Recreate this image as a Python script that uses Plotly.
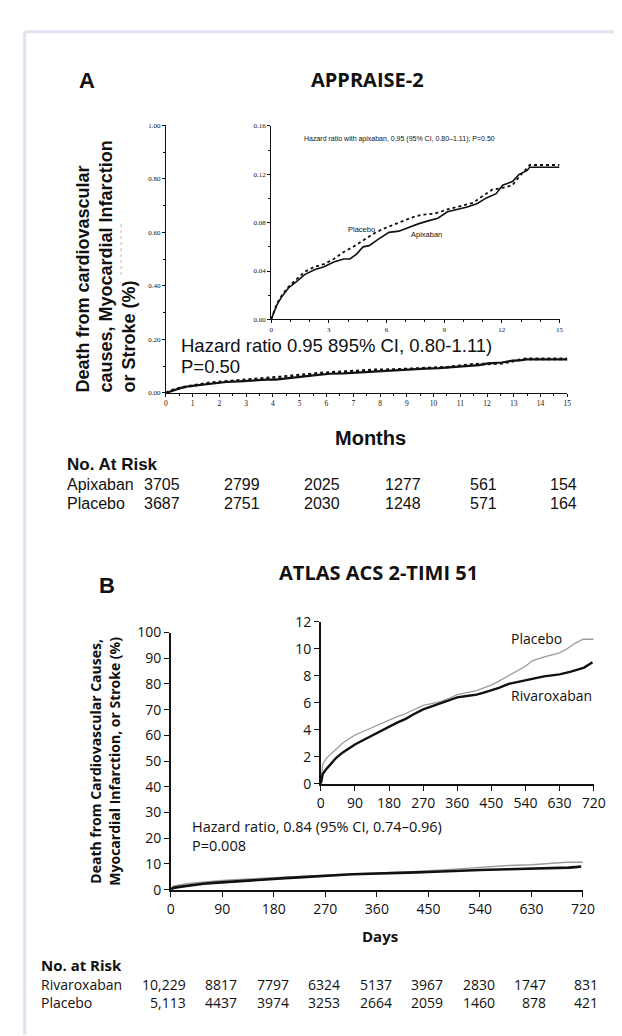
import plotly.graph_objects as go

W, H = 622, 1036

# ---------------- Data: Panel A (APPRAISE-2) ----------------
apx_months = [0, 0.14, 0.3, 0.56, 0.9, 1.3, 1.74, 2.25, 2.75, 3.26, 3.77, 4.1, 4.44, 4.78, 5.1, 5.6,
              6.13, 6.64, 7.1, 7.65, 8.16, 8.67, 9.17, 9.68, 10.2, 10.7, 11.2, 11.7, 12.04, 12.55,
              12.9, 13.3, 13.45, 15]
apx_rate = [0, 0.0054, 0.012, 0.019, 0.026, 0.031, 0.037, 0.041, 0.0435, 0.0475, 0.050, 0.050, 0.054,
            0.060, 0.061, 0.0666, 0.072, 0.073, 0.076, 0.079, 0.0815, 0.0837, 0.089, 0.091, 0.093,
            0.0957, 0.1005, 0.104, 0.111, 0.114, 0.120, 0.123, 0.1258, 0.1258]
plcA_months = [0, 0.14, 0.3, 0.56, 0.9, 1.3, 1.74, 2.25, 2.75, 3.26, 3.77, 4.27, 4.78, 5.3, 5.8, 6.3,
               6.8, 7.3, 7.8, 8.5, 9.17, 9.85, 10.5, 11.0, 11.5, 12.04, 12.55, 12.9, 13.3, 13.45, 15]
plcA_rate = [0, 0.006, 0.013, 0.020, 0.027, 0.033, 0.0394, 0.0435, 0.0457, 0.050, 0.0557, 0.060, 0.065,
             0.0707, 0.0747, 0.078, 0.081, 0.0842, 0.0864, 0.0875, 0.091, 0.0937, 0.0965, 0.102,
             0.1073, 0.1087, 0.111, 0.118, 0.1245, 0.1277, 0.1277]
riskA_months = [0, 3, 6, 9, 12, 15]
riskA_apixaban = [3705, 2799, 2025, 1277, 561, 154]
riskA_placebo = [3687, 2751, 2030, 1248, 571, 164]

# ---------------- Data: Panel B (ATLAS ACS 2-TIMI 51) ----------------
riv_days = [0, 2, 5, 15, 26, 40, 57, 75, 90, 110, 130, 155, 180, 200, 224, 245, 270, 295, 318, 340,
            360, 385, 411, 430, 450, 470, 496, 540, 589, 630, 660, 695, 707, 717]
riv_rate = [0, 0.35, 0.72, 1.1, 1.45, 1.9, 2.3, 2.65, 2.9, 3.2, 3.5, 3.85, 4.2, 4.5, 4.8, 5.15, 5.5,
            5.75, 6.0, 6.2, 6.4, 6.5, 6.6, 6.75, 6.9, 7.1, 7.4, 7.65, 7.95, 8.1, 8.3, 8.6, 8.8, 9.0]
plcB_days = [0, 2, 5, 15, 26, 40, 57, 75, 90, 110, 130, 155, 180, 200, 224, 245, 270, 295, 318, 340,
             360, 385, 411, 430, 450, 470, 496, 515, 540, 558, 590, 630, 650, 671, 692, 720]
plcB_rate = [0, 0.9, 1.45, 1.9, 2.2, 2.6, 3.0, 3.35, 3.6, 3.85, 4.1, 4.4, 4.7, 4.95, 5.2, 5.5, 5.8,
             5.95, 6.1, 6.35, 6.6, 6.75, 6.9, 7.1, 7.3, 7.6, 8.0, 8.3, 8.7, 9.1, 9.4, 9.7, 10.0,
             10.4, 10.7, 10.7]
riskB_days = [0, 90, 180, 270, 360, 450, 540, 630, 720]
riskB_rivaroxaban = [10229, 8817, 7797, 6324, 5137, 3967, 2830, 1747, 831]
riskB_placebo = [5113, 4437, 3974, 3253, 2664, 2059, 1460, 878, 421]


def px(x):
    return x / W


def py(y):
    return 1 - y / H


ARIAL = "Liberation Sans, Arial, sans-serif"
NARROW = "Liberation Sans Narrow, Liberation Sans, Arial, sans-serif"
SERIF = "Liberation Serif, Times New Roman, serif"
MYR = "Open Sans, Noto Sans, sans-serif"
BLACK = "#111111"
GRAY = "#9b9b9b"

fig = go.Figure()

# Panel A main
fig.add_trace(go.Scatter(x=plcA_months, y=plcA_rate, mode="lines", xaxis="x", yaxis="y",
                         line=dict(color=BLACK, width=2.6, dash="dot")))
fig.add_trace(go.Scatter(x=apx_months, y=apx_rate, mode="lines", xaxis="x", yaxis="y",
                         line=dict(color=BLACK, width=2.2)))
# Panel A inset
fig.add_trace(go.Scatter(x=plcA_months, y=plcA_rate, mode="lines", xaxis="x2", yaxis="y2",
                         line=dict(color=BLACK, width=1.8, dash="dot")))
fig.add_trace(go.Scatter(x=apx_months, y=apx_rate, mode="lines", xaxis="x2", yaxis="y2",
                         line=dict(color=BLACK, width=1.6)))
# Panel B main
fig.add_trace(go.Scatter(x=plcB_days, y=plcB_rate, mode="lines", xaxis="x3", yaxis="y3",
                         line=dict(color=GRAY, width=1.4)))
fig.add_trace(go.Scatter(x=riv_days, y=riv_rate, mode="lines", xaxis="x3", yaxis="y3",
                         line=dict(color=BLACK, width=2.6)))
# Panel B inset
fig.add_trace(go.Scatter(x=plcB_days, y=plcB_rate, mode="lines", xaxis="x4", yaxis="y4",
                         line=dict(color=GRAY, width=1.3)))
fig.add_trace(go.Scatter(x=riv_days, y=riv_rate, mode="lines", xaxis="x4", yaxis="y4",
                         line=dict(color=BLACK, width=2.4)))


def axis(domain, rng, dtick, anchor, size, family, ticklen, minor=None, fmt=None, lw=1):
    d = dict(domain=domain, range=rng, dtick=dtick, tick0=0, anchor=anchor,
             showline=True, linecolor=BLACK, linewidth=lw, ticks="outside",
             ticklen=ticklen, tickwidth=1, tickcolor=BLACK, showgrid=False, zeroline=False,
             tickfont=dict(size=size, family=family, color=BLACK), fixedrange=True)
    if fmt:
        d["tickformat"] = fmt
    if minor:
        d["minor"] = dict(dtick=minor, ticks="outside", ticklen=max(2, ticklen - 1),
                          tickwidth=1, tickcolor=BLACK, showgrid=False)
    return d


fig.update_layout(
    width=W, height=H, margin=dict(l=0, r=0, t=0, b=0),
    paper_bgcolor="white", plot_bgcolor="rgba(0,0,0,0)", showlegend=False,
    xaxis=axis([px(158), px(570)], [0, 15], 1, "y", 7.5, SERIF, 3, minor=0.5),
    yaxis=axis([py(382), py(109.5)], [0, 1.0], 0.2, "x", 7, SERIF, 3, minor=0.1, fmt=".2f"),
    xaxis2=axis([px(266), px(562)], [0, 15], 3, "y2", 7, SERIF, 3, minor=1),
    yaxis2=axis([py(307), py(110)], [0, 0.16], 0.04, "x2", 7, SERIF, 3, minor=0.02, fmt=".2f"),
    xaxis3=axis([px(163), px(586)], [0, 720], 90, "y3", 14, MYR, 6, lw=1.5),
    yaxis3=axis([py(888), py(626)], [0, 100], 10, "x3", 14, MYR, 5, lw=1.5),
    xaxis4=axis([px(317), px(597)], [0, 720], 90, "y4", 14, MYR, 6, lw=1.5),
    yaxis4=axis([py(780), py(615)], [0, 12], 2, "x4", 14, MYR, 5, lw=1.5),
)

ann = []


def text(x, y, s, size, family, xanchor="left", bold=False, **kw):
    if bold:
        s = "<b>" + s + "</b>"
    d = dict(x=px(x), y=py(y), xref="paper", yref="paper", text=s, showarrow=False,
             xanchor=xanchor, yanchor="middle",
             font=dict(size=size, family=family, color=BLACK))
    d.update(kw)
    ann.append(d)


# Panel A texts
text(77, 64, "A", 22, ARIAL, "center", bold=True)
text(365, 63, "APPRAISE-2", 20, MYR, "center", bold=True)
text(298, 123, "Hazard ratio with apixaban, 0.95 (95% CI, 0.80\u20131.11); P=0.50", 7, NARROW)
text(343, 215, "Placebo", 7.5, NARROW)
text(407, 221, "Apixaban", 7.5, NARROW)
text(171, 334, "Hazard ratio 0.95 895% CI, 0.80-1.11)", 18.5, ARIAL)
text(171, 355, "P=0.50", 18.5, ARIAL)
text(368, 428, "Months", 20, ARIAL, "center", bold=True)
text(54, 455, "No. At Risk", 17, ARIAL, bold=True)
text(54, 475, "Apixaban", 16, ARIAL)
text(54, 495, "Placebo", 16, ARIAL)
ann.append(dict(x=px(97), y=py(384), xref="paper", yref="paper", showarrow=False,
                text="<b>Death from cardiovascular<br>causes, Myocardial Infarction<br>or Stroke (%)</b>",
                textangle=-90, align="left", xanchor="center", yanchor="bottom",
                font=dict(size=18, family=ARIAL, color=BLACK)))
for m, a, p in zip(riskA_months, riskA_apixaban, riskA_placebo):
    for val, yy in ((a, 475), (p, 495)):
        ann.append(dict(x=m, y=py(yy), xref="x", yref="paper", text=str(val), showarrow=False,
                        xanchor="center", yanchor="middle", xshift=-4,
                        font=dict(size=16, family=ARIAL, color=BLACK)))

# Panel B texts
text(97, 578, "B", 22, ARIAL, "center", bold=True)
text(376, 565, "ATLAS ACS 2-TIMI 51", 20, MYR, "center", bold=True)
text(510, 632, "Placebo", 14, MYR)
text(510, 690, "Rivaroxaban", 14, MYR)
text(183, 824, "Hazard ratio, 0.84 (95% CI, 0.74\u20130.96)", 14.5, MYR)
text(183, 843, "P=0.008", 14.5, MYR)
text(378, 935, "Days", 15, MYR, "center", bold=True)
text(28, 965, "No. at Risk", 15, MYR, bold=True)
text(28, 985, "Rivaroxaban", 14, MYR)
text(28, 1003, "Placebo", 14, MYR)
ann.append(dict(x=px(95), y=py(757), xref="paper", yref="paper", showarrow=False,
                text="<b>Death from Cardiovascular Causes,<br>Myocardial Infarction, or Stroke (%)</b>",
                textangle=-90, align="center", xanchor="center", yanchor="middle",
                font=dict(size=14, family=MYR, color=BLACK)))
for i, (d, r, p) in enumerate(zip(riskB_days, riskB_rivaroxaban, riskB_placebo)):
    rs = f"{r:,}" if i == 0 else str(r)
    ps = f"{p:,}" if i == 0 else str(p)
    for val, yy in ((rs, 985), (ps, 1003)):
        ann.append(dict(x=d, y=py(yy), xref="x3", yref="paper", text=val, showarrow=False,
                        xanchor="right", yanchor="middle", xshift=17,
                        font=dict(size=14, family=MYR, color=BLACK)))

fig.update_layout(annotations=ann)

# frame border (left & top) and faint artifact line
shapes = [
    dict(type="line", xref="paper", yref="paper", x0=px(13), x1=px(13), y0=py(14), y1=0,
         line=dict(color="#e1e3f2", width=3)),
    dict(type="line", xref="paper", yref="paper", x0=px(13), x1=1, y0=py(14), y1=py(14),
         line=dict(color="#e1e3f2", width=3)),
    dict(type="line", xref="paper", yref="paper", x0=px(112), x1=px(112), y0=py(210), y1=py(262),
         line=dict(color="#b5b5b5", width=1, dash="dot")),
]
fig.update_layout(shapes=shapes)

fig.write_html("out.html")
